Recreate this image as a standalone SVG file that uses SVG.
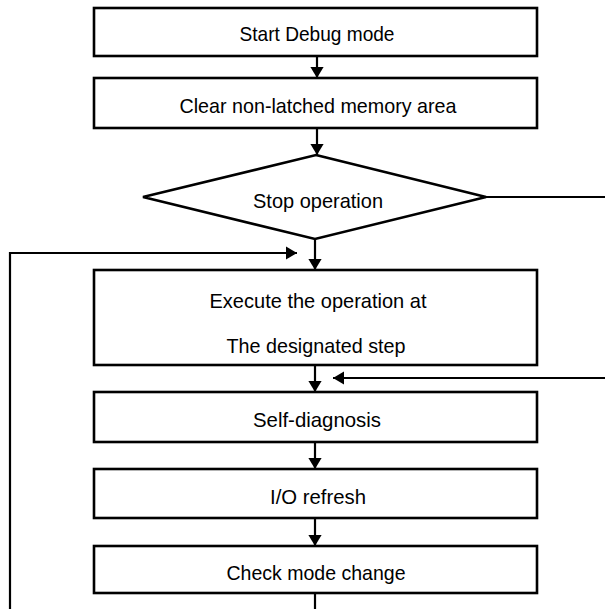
<svg xmlns="http://www.w3.org/2000/svg" width="605" height="609" viewBox="0 0 605 609">
<defs>
<marker id="ah" viewBox="0 0 10 12" refX="10" refY="6" markerWidth="5.5" markerHeight="6" markerUnits="strokeWidth" orient="auto">
<path d="M0,0 L10,6 L0,12 Z" fill="#000"/>
</marker>
<style>
.b{fill:#fff;stroke:#000;stroke-width:2.6}
.t{font-family:"Liberation Sans",Arial,sans-serif;font-size:21px;fill:#000;text-anchor:middle;dominant-baseline:central}
.c{fill:none;stroke:#000;stroke-width:2.2}
</style>
</defs>
<rect width="605" height="609" fill="#fff"/>
<g id="connectors">
<line class="c" x1="317" y1="56" x2="317" y2="78" marker-end="url(#ah)"/>
<line class="c" x1="317" y1="128" x2="317" y2="155" marker-end="url(#ah)"/>
<line class="c" x1="486" y1="197" x2="605" y2="197"/>
<line class="c" x1="315" y1="239" x2="315" y2="270" marker-end="url(#ah)"/>
<polyline class="c" points="10,609 10,253 297,253" marker-end="url(#ah)"/>
<line class="c" x1="315" y1="365" x2="315" y2="392" marker-end="url(#ah)"/>
<line class="c" x1="605" y1="378" x2="333" y2="378" marker-end="url(#ah)"/>
<line class="c" x1="315" y1="442" x2="315" y2="469" marker-end="url(#ah)"/>
<line class="c" x1="315" y1="518" x2="315" y2="546" marker-end="url(#ah)"/>
<line class="c" x1="315" y1="593" x2="315" y2="609"/>
</g>
<g id="start"><rect class="b" x="94" y="8" width="443" height="48"/><text class="t" x="317" y="33" textLength="155" lengthAdjust="spacingAndGlyphs">Start Debug mode</text></g>
<g id="clear"><rect class="b" x="94" y="78" width="443" height="50"/><text class="t" x="318" y="105" textLength="277" lengthAdjust="spacingAndGlyphs">Clear non-latched memory area</text></g>
<g id="stop"><polygon class="b" points="316,155 486,197 315,239 143,197"/><text class="t" x="318" y="200" textLength="130" lengthAdjust="spacingAndGlyphs">Stop operation</text></g>
<g id="execute"><rect class="b" x="94" y="270" width="443" height="95"/><text class="t" x="318" y="300" textLength="217" lengthAdjust="spacingAndGlyphs">Execute the operation at</text><text class="t" x="316" y="345" textLength="179" lengthAdjust="spacingAndGlyphs">The designated step</text></g>
<g id="selfdiag"><rect class="b" x="94" y="392" width="443" height="50"/><text class="t" x="317" y="419" textLength="128" lengthAdjust="spacingAndGlyphs">Self-diagnosis</text></g>
<g id="io"><rect class="b" x="94" y="469" width="443" height="49"/><text class="t" x="318" y="496" textLength="96" lengthAdjust="spacingAndGlyphs">I/O refresh</text></g>
<g id="check"><rect class="b" x="94" y="546" width="443" height="47"/><text class="t" x="316" y="572" textLength="179" lengthAdjust="spacingAndGlyphs">Check mode change</text></g>
</svg>
